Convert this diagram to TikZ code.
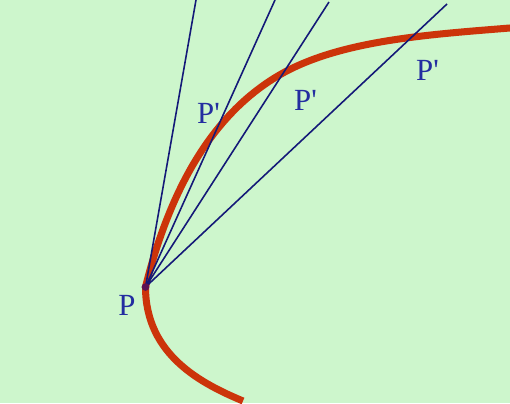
\documentclass[tikz,border=0pt]{standalone}
\usepackage{fontspec}
\setmainfont{Liberation Serif}
\definecolor{bggreen}{RGB}{205,246,204}
\definecolor{curvered}{RGB}{204,52,10}
\definecolor{linenavy}{RGB}{20,25,120}
\definecolor{labelblue}{RGB}{35,45,160}
\tikzset{
  secant/.style={linenavy,line width=0.9pt},
  ptlabel/.style={labelblue,font=\fontsize{17.5}{20}\selectfont}
}
\begin{document}
\begin{tikzpicture}
\fill[bggreen] (0,0) rectangle (10.2,8.06);
\useasboundingbox (0,0) rectangle (10.2,8.06);
\coordinate (P) at (2.91,2.32);
\coordinate (Q) at (5.66,6.60);
\coordinate (A1) at (3.92,8.06);
\coordinate (A2) at (5.50,8.06);
\coordinate (A3) at (6.58,8.02);
\coordinate (A4) at (8.94,7.98);
\draw[curvered,line width=4pt,line cap=butt] (4.86,0.04)
  .. controls (4.05,0.38) and (2.91,0.95) .. (P)
  .. controls (3.46,4.52) and (4.40,5.90) .. (Q)
  .. controls (6.86,7.26) and (8.6,7.37) .. (10.2,7.50);
\foreach \e in {A1,A2,A3,A4}
  \draw[secant] (P) -- (\e);
\fill[linenavy!70!red] (P) circle (2.2pt);
\node[ptlabel] (lP) at (2.54,1.96) {P};
\node[ptlabel] (lP1) at (4.17,5.80) {P\textquotesingle};
\node[ptlabel] (lP2) at (6.11,6.06) {P\textquotesingle};
\node[ptlabel] (lP3) at (8.55,6.66) {P\textquotesingle};
\end{tikzpicture}
\end{document}
